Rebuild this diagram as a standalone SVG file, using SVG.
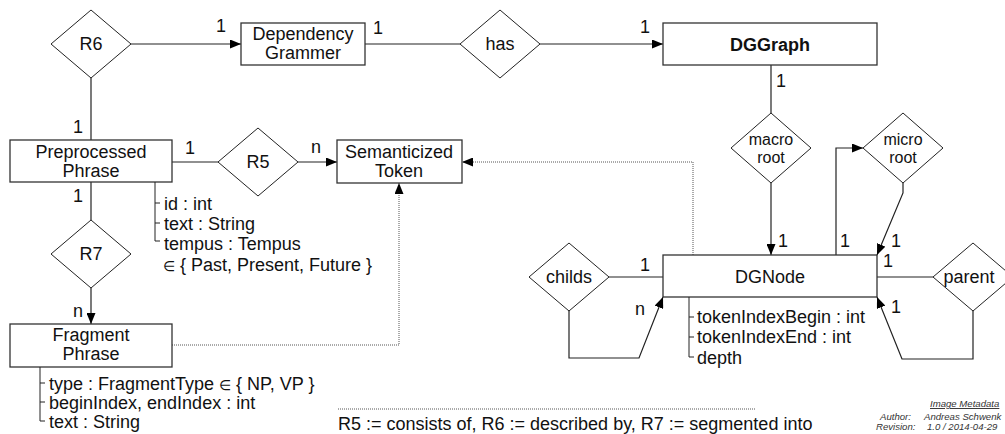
<svg xmlns="http://www.w3.org/2000/svg" width="1005" height="434" viewBox="0 0 1005 434">
  <defs>
    <marker id="arrow" markerWidth="11" markerHeight="9" refX="11" refY="4.5" orient="auto" markerUnits="userSpaceOnUse">
      <path d="M0,0 L11,4.5 L0,9 z" fill="#000"/>
    </marker>
    <style>
      .box { fill: #fff; stroke: #333; stroke-width: 1.3; }
      .dia { fill: #fff; stroke: #222; stroke-width: 1; }
      .t { font-family: "Liberation Sans", Arial, sans-serif; font-size: 18px; fill: #111; }
      .c { text-anchor: middle; }
      .s16 { font-size: 16px; }
      .b { font-weight: bold; }
      .el { font-size: 14px; }
      .ln { fill: none; stroke: #222; stroke-width: 1.2; }
      .arr { fill: none; stroke: #222; stroke-width: 1.2; marker-end: url(#arrow); }
      .dot { fill: none; stroke: #555; stroke-width: 1; stroke-dasharray: 1 1; }
      .dotarr { fill: none; stroke: #555; stroke-width: 1; stroke-dasharray: 1 1; marker-end: url(#arrow); }
      .attr { fill: none; stroke: #222; stroke-width: 1; }
      .meta { font-family: "Liberation Sans", Arial, sans-serif; font-size: 9.6px; font-style: italic; fill: #333; }
    </style>
  </defs>

  <!-- connectors -->
  <g id="connectors">
    <path class="arr" d="M131,44 H241"/>
    <path class="ln" d="M91,78 V140"/>
    <path class="ln" d="M365,44 H460"/>
    <path class="arr" d="M540,44 H663"/>
    <path class="ln" d="M172,162 H218"/>
    <path class="arr" d="M298,162 H337"/>
    <path class="ln" d="M91,182 V220"/>
    <path class="arr" d="M91,288 V324"/>
    <path class="ln" d="M771,65 V113"/>
    <path class="arr" d="M771,183 V255"/>
    <path class="arr" d="M836,255 V148 H863"/>
    <path class="arr" d="M903,183 V193 L877,255"/>
    <path class="ln" d="M877,277 H933"/>
    <path class="arr" d="M973,310 V359 H902 L877,297"/>
    <path class="ln" d="M609,277 H663"/>
    <path class="arr" d="M569,310 V358 H639 L663,297"/>
    <path class="dotarr" d="M693,255 V162 H462"/>
    <path class="dotarr" d="M172,345 H399 V183"/>

    <!-- cardinalities -->
    <text class="t" x="216" y="32">1</text>
    <text class="t" x="373" y="34">1</text>
    <text class="t" x="640" y="33">1</text>
    <text class="t" x="73" y="133">1</text>
    <text class="t" x="185" y="154">1</text>
    <text class="t" x="311" y="153">n</text>
    <text class="t" x="73" y="202">1</text>
    <text class="t" x="73" y="317">n</text>
    <text class="t" x="776" y="87">1</text>
    <text class="t" x="778" y="247">1</text>
    <text class="t" x="840" y="247">1</text>
    <text class="t" x="891" y="247">1</text>
    <text class="t" x="883" y="267">1</text>
    <text class="t" x="891" y="313">1</text>
    <text class="t" x="640" y="271">1</text>
    <text class="t" x="635" y="315">n</text>
  </g>

  <!-- relationship diamonds -->
  <g id="R6">
    <polygon class="dia" points="91,10 131,44 91,78 51,44"/>
    <text class="t c" x="91" y="50">R6</text>
  </g>
  <g id="has">
    <polygon class="dia" points="500,10 540,44 500,78 460,44"/>
    <text class="t c" x="500" y="50">has</text>
  </g>
  <g id="R5">
    <polygon class="dia" points="258,128 298,162 258,196 218,162"/>
    <text class="t c" x="258" y="168">R5</text>
  </g>
  <g id="R7">
    <polygon class="dia" points="91,220 131,254 91,288 51,254"/>
    <text class="t c" x="91" y="260">R7</text>
  </g>
  <g id="macroRoot">
    <polygon class="dia" points="771,113 811,148 771,183 731,148"/>
    <text class="t c s16" x="771" y="145">macro</text>
    <text class="t c s16" x="771" y="163">root</text>
  </g>
  <g id="microRoot">
    <polygon class="dia" points="903,113 943,148 903,183 863,148"/>
    <text class="t c s16" x="903" y="145">micro</text>
    <text class="t c s16" x="903" y="163">root</text>
  </g>
  <g id="childs">
    <polygon class="dia" points="569,243 609,277 569,311 529,277"/>
    <text class="t c" x="569" y="283">childs</text>
  </g>
  <g id="parent">
    <polygon class="dia" points="973,243 1013,277 973,311 933,277"/>
    <text class="t c" x="969" y="283">parent</text>
  </g>

  <!-- entities -->
  <g id="dependencyGrammer">
    <rect class="box" x="241" y="23" width="124" height="42"/>
    <text class="t c" x="303" y="40">Dependency</text>
    <text class="t c" x="303" y="59">Grammer</text>
  </g>
  <g id="dgGraph">
    <rect class="box" x="663" y="23" width="214" height="42"/>
    <text class="t c b" x="770" y="51">DGGraph</text>
  </g>
  <g id="preprocessedPhrase">
    <rect class="box" x="10" y="140" width="162" height="42"/>
    <text class="t c" x="91" y="158">Preprocessed</text>
    <text class="t c" x="91" y="177">Phrase</text>
    <path class="attr" d="M155,182 V241 H160 M155,203 H160 M155,223 H160"/>
    <text class="t" x="164" y="210">id : int</text>
    <text class="t" x="164" y="230">text : String</text>
    <text class="t" x="164" y="250">tempus : Tempus</text>
    <text class="t" x="163" y="271"><tspan class="el">∈</tspan> { Past, Present, Future }</text>
  </g>
  <g id="semanticizedToken">
    <rect class="box" x="337" y="140" width="125" height="43"/>
    <text class="t c" x="399" y="158">Semanticized</text>
    <text class="t c" x="399" y="177">Token</text>
  </g>
  <g id="fragmentPhrase">
    <rect class="box" x="10" y="324" width="162" height="43"/>
    <text class="t c" x="91" y="341">Fragment</text>
    <text class="t c" x="91" y="360">Phrase</text>
    <path class="attr" d="M40,367 V421 H45 M40,383 H45 M40,402 H45"/>
    <text class="t" x="49" y="390">type : FragmentType <tspan class="el">∈</tspan> { NP, VP }</text>
    <text class="t" x="49" y="409">beginIndex, endIndex : int</text>
    <text class="t" x="49" y="428">text : String</text>
  </g>
  <g id="dgNode">
    <rect class="box" x="663" y="255" width="214" height="42"/>
    <text class="t c" x="770" y="283">DGNode</text>
    <path class="attr" d="M689,297 V357 H694 M689,317 H694 M689,337 H694"/>
    <text class="t" x="697" y="323">tokenIndexBegin : int</text>
    <text class="t" x="697" y="343">tokenIndexEnd : int</text>
    <text class="t" x="697" y="364">depth</text>
  </g>

  <!-- legend -->
  <g id="legend">
    <path class="dot" d="M338,409 H755"/>
    <text class="t" x="338" y="430">R5 := consists of, R6 := described by, R7 := segmented into</text>
  </g>

  <!-- metadata -->
  <g id="metadata">
    <text class="meta" x="930" y="407" text-decoration="underline">Image Metadata</text>
    <text class="meta" x="880" y="420">Author:</text>
    <text class="meta" x="924" y="420">Andreas Schwenk</text>
    <text class="meta" x="876" y="430">Revision:</text>
    <text class="meta" x="927" y="430">1.0 / 2014-04-29</text>
  </g>
</svg>
